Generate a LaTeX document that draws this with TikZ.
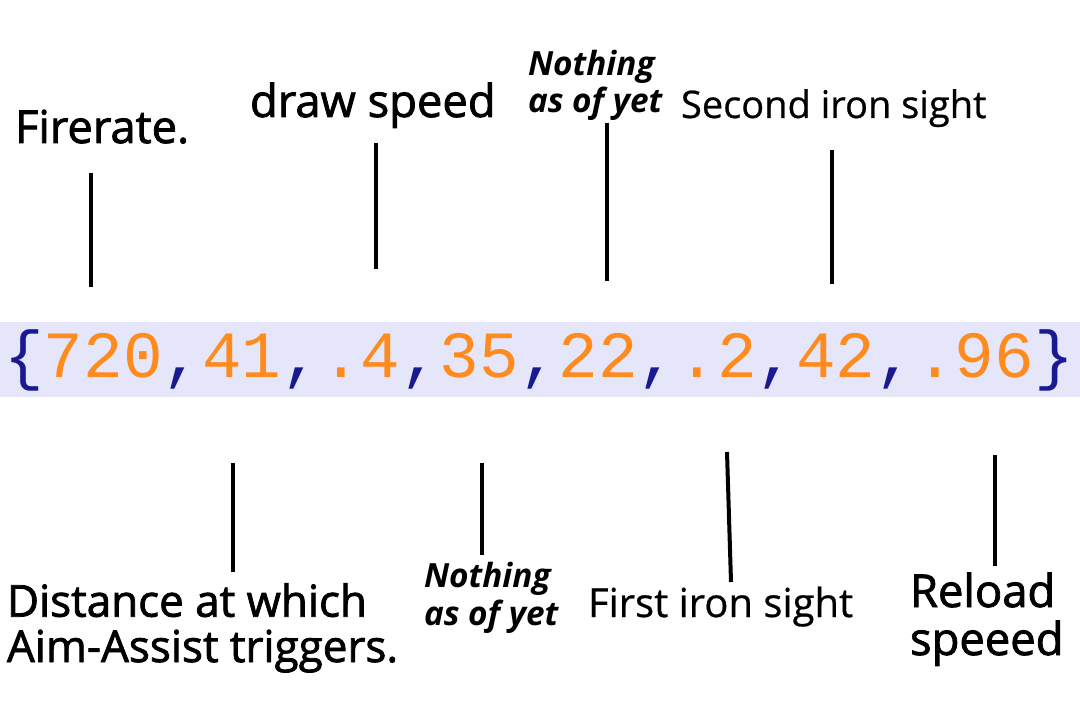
\documentclass[tikz,border=0pt]{standalone}
\usepackage{fontspec}
\setmainfont{Open Sans}
\newfontfamily\semib[FakeBold=1.8]{Open Sans}
\newfontfamily\regb[FakeBold=0.6]{Open Sans}
\newfontfamily\codefont{Liberation Mono}
\definecolor{bandbg}{HTML}{E6E6FA}
\definecolor{numcol}{HTML}{FF8A1E}
\definecolor{punctcol}{HTML}{1A1A90}
\newcommand{\nm}[1]{\textcolor{numcol}{#1}}
\newcommand{\pc}[1]{\textcolor{punctcol}{#1}}
\tikzset{
  lbl/.style={inner sep=0pt, outer sep=0pt, anchor=base west, align=left},
  bigsemi/.style={lbl, font=\semib\fontsize{34}{36}\selectfont},
  midsemi/.style={lbl, font=\semib\fontsize{33}{34}\selectfont},
  regular/.style={lbl, font=\regb\fontsize{28.5}{34}\selectfont},
  note/.style={lbl, font=\bfseries\itshape\fontsize{25}{28}\selectfont},
  tick/.style={line width=3pt, black}
}
\begin{document}
\begin{tikzpicture}[x=0.75pt, y=-0.75pt]
\useasboundingbox (0,0) rectangle (1080,720);
\fill[bandbg] (0,322) rectangle (1080,397);
\node[inner sep=0pt, anchor=base west, font=\codefont\fontsize{49.5}{50}\selectfont] (code) at (4,377)
  {\pc{\{}\nm{720}\pc{,}\nm{41}\pc{,}\nm{.4}\pc{,}\nm{35}\pc{,}\nm{22}\pc{,}\nm{.2}\pc{,}\nm{42}\pc{,}\nm{.96}\pc{\}}};
% top labels (multi-line nodes: base = last line's baseline)
\node[bigsemi] (fire) at (15,143) {Firerate.};
\node[bigsemi] (draw) at (250,117) {draw speed};
\node[note] (noth1) at (528,113) {Nothing\\as of yet};
\node[regular] (sec) at (681,118) {Second iron sight};
% bottom labels
\node[midsemi] (dist) at (7,662) {Distance at which\\Aim-Assist triggers.};
\node[note] (noth2) at (424,625) {Nothing\\as of yet};
\node[regular, font=\regb\fontsize{30}{34}\selectfont] (first) at (588,617) {First iron sight};
\node[bigsemi] (rel) at (910,655) {Reload\\speeed};
% tick coordinates
\coordinate (a1) at (91,173); \coordinate (a2) at (91,287);
\coordinate (b1) at (376,143); \coordinate (b2) at (376,269);
\coordinate (c1) at (607,123); \coordinate (c2) at (607,281);
\coordinate (d1) at (832,150); \coordinate (d2) at (832,284);
\coordinate (e1) at (233,463); \coordinate (e2) at (233,572);
\coordinate (f1) at (482,463); \coordinate (f2) at (482,555);
\coordinate (g1) at (727,452); \coordinate (g2) at (731,582);
\coordinate (h1) at (995,455); \coordinate (h2) at (995,566);
\draw[tick] (a1) -- (a2);
\draw[tick] (b1) -- (b2);
\draw[tick] (c1) -- (c2);
\draw[tick] (d1) -- (d2);
\draw[tick] (e1) -- (e2);
\draw[tick] (f1) -- (f2);
\draw[tick] (g1) -- (g2);
\draw[tick] (h1) -- (h2);
\end{tikzpicture}
\end{document}
